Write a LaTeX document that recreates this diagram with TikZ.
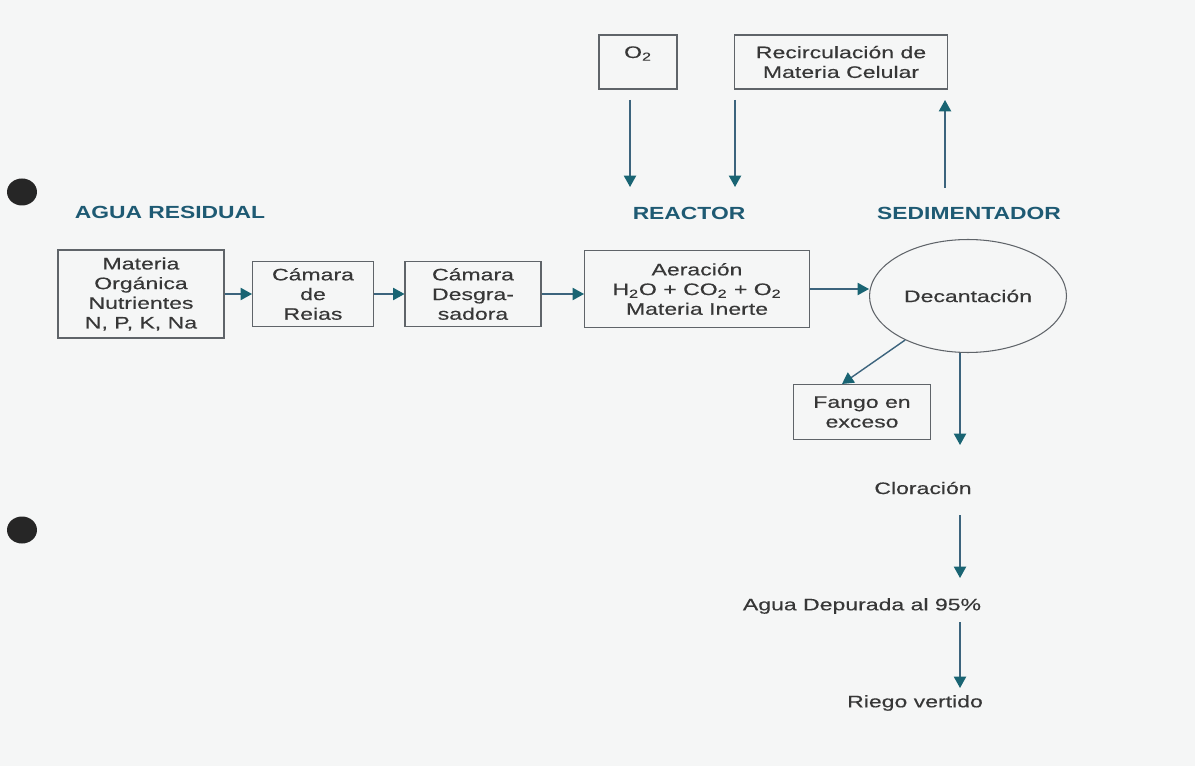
\documentclass[tikz,border=0pt]{standalone}
\usepackage{fontspec}
\setmainfont{Liberation Sans}[FakeStretch=1.38, FakeBold=0.3]
\newfontfamily\headfont{Liberation Sans}[FakeStretch=1.3]
\usetikzlibrary{shapes,arrows.meta,positioning,calc}
\usepackage{xcolor}
\definecolor{paper}{RGB}{245,246,246}
\definecolor{headblue}{RGB}{30,90,115}
\definecolor{flowblue}{RGB}{60,100,125}
\definecolor{tipteal}{RGB}{25,100,115}
\definecolor{boxgray}{RGB}{95,100,105}
\definecolor{inkgray}{RGB}{55,55,55}

\tikzset{
  procbox/.style={draw=boxgray, line width=0.6pt, align=center, text=inkgray, inner sep=0pt, font=\fontsize{9.5}{11.2}\selectfont},
  heading/.style={text=headblue, font=\headfont\bfseries\fontsize{10}{12}\selectfont},
  plainlabel/.style={text=inkgray, font=\fontsize{9.5}{11.2}\selectfont},
  flow/.style={draw=flowblue, line width=0.8pt, -{Triangle[length=6.5pt,width=7pt,color=tipteal]}},
}

\begin{document}
\begin{tikzpicture}[x=0.02cm, y=-0.02cm]
    \fill[paper] (0,0) rectangle (1195,766);
    \useasboundingbox (0,0) rectangle (1195,766);

    % punch holes of the scan
    \fill[black!85] (22,192) ellipse [x radius=0.3cm, y radius=0.27cm];
    \fill[black!85] (22,530) ellipse [x radius=0.3cm, y radius=0.27cm];

    % headings
    \node[heading] (resid) at (170,212) {AGUA RESIDUAL};
    \node[heading] (reactor) at (689,213) {REACTOR};
    \node[heading] (sedim) at (969,213) {SEDIMENTADOR};

    % main line
    \node[procbox, minimum width=3.32cm, minimum height=1.76cm] (organic) at (141,294) {Materia\\Orgánica\\Nutrientes\\N, P, K, Na};
    \node[procbox, minimum width=2.42cm, minimum height=1.3cm] (reias) at (313,294) {Cámara\\de\\Reias};
    \node[procbox, minimum width=2.72cm, minimum height=1.3cm] (desgra) at (473,294) {Cámara\\Desgra-\\sadora};
    \node[procbox, minimum width=4.5cm, minimum height=1.54cm] (aeration) at (697,289) {Aeración\\H\textsubscript{2}O + CO\textsubscript{2} + O\textsubscript{2}\\Materia Inerte};
    \node[procbox, ellipse, minimum width=3.94cm, minimum height=2.26cm] (decant) at (968,296) {Decantación};

    % top boxes
    \node[procbox, minimum width=1.56cm, minimum height=1.08cm] (oxygen) at (638,62) {O\textsubscript{2}\\\mbox{}};
    \node[procbox, minimum width=4.26cm, minimum height=1.08cm] (recirc) at (841,62) {Recirculación de\\Materia Celular};

    % outputs
    \node[procbox, minimum width=2.74cm, minimum height=1.1cm] (sludge) at (862,412) {Fango en\\exceso};
    \node[plainlabel] (chlor) at (923,488) {Cloración};
    \node[plainlabel] (clean) at (862,606) {Agua Depurada al 95\%};
    \node[plainlabel] (irrig) at (915,703) {Riego vertido};

    % free ends
    \coordinate (o2top) at (630,100);
    \coordinate (o2tip) at (630,187);
    \coordinate (rctop) at (735,100);
    \coordinate (rctip) at (735,187);
    \coordinate (sedtop) at (945,188);
    \coordinate (sedtip) at (945,100);
    \coordinate (dropA) at (960,445);
    \coordinate (dropB) at (960,515);
    \coordinate (dropC) at (960,578);
    \coordinate (dropD) at (960,622);
    \coordinate (dropE) at (960,688);

    \draw[flow] (organic.east) -- (reias.west);
    \draw[flow] (reias.east) -- (desgra.west);
    \draw[flow] (desgra.east) -- (desgra.east -| aeration.west);
    \draw[flow] (aeration.east) -- (aeration.east -| decant.west);
    \draw[flow] (o2top) -- (o2tip);
    \draw[flow] (rctop) -- (rctip);
    \draw[flow] (sedtop) -- (sedtip);
    \draw[flow] (decant.215) -- ([xshift=-0.4cm]sludge.north);
    \draw[flow] (decant.south -| dropA) -- (dropA);
    \draw[flow] (dropB) -- (dropC);
    \draw[flow] (dropD) -- (dropE);
\end{tikzpicture}
\end{document}
